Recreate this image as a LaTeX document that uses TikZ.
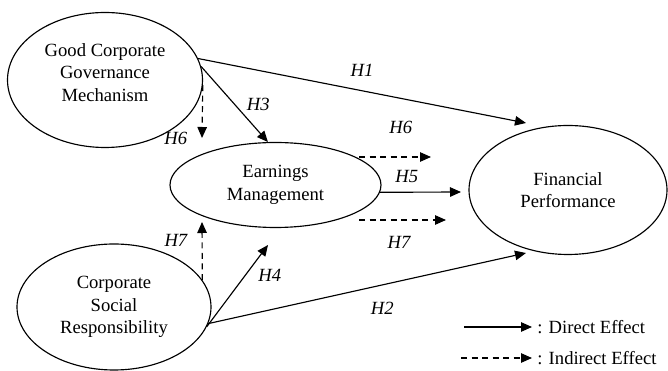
\documentclass[tikz,border=0pt]{standalone}
\usepackage{fontspec}
\setmainfont{Liberation Serif}
\usepackage{tikz}
\usetikzlibrary{arrows.meta, positioning, shapes.geometric}

\begin{document}
\begin{tikzpicture}[font=\fontsize{10.6}{12.8}\selectfont,
    var/.style={draw, ellipse, line width=0.65pt, inner sep=0pt, align=center},
    direct/.style={-{Triangle[length=0.22cm, width=0.19cm]}, line width=0.65pt},
    indirect/.style={direct, dash pattern=on 3.4pt off 2.6pt},
    hyp/.style={inner sep=1pt, font=\fontsize{10.6}{12.8}\selectfont\itshape}]
    \useasboundingbox (0,0) rectangle (13.36,7.42);

    \node (gcg) [var, minimum width=3.9cm, minimum height=2.7cm] at (2.10,5.82) {Good Corporate\\ Governance\\ Mechanism\\[-4pt]};
    \node (em) [var, minimum width=4.22cm, minimum height=1.7cm] at (5.51,3.72) {Earnings\\ Management};
    \node (fp) [var, minimum width=3.96cm, minimum height=2.58cm] at (11.36,3.62) {Financial\\ Performance};
    \node (csr) [var, minimum width=3.88cm, minimum height=2.52cm] at (2.28,1.28) {Corporate\\ Social\\ Responsibility};

    \coordinate (h1tip) at (10.52,4.96);
    \coordinate (h6tip) at (4.04,4.66);
    \coordinate (h6a) at (7.18,4.28);
    \coordinate (h6b) at (8.62,4.28);
    \coordinate (h5tip) at (9.22,3.58);
    \coordinate (h7a) at (7.18,3.02);
    \coordinate (h7b) at (8.92,3.02);
    \coordinate (h7tip) at (4.04,2.98);
    \coordinate (h4tip) at (5.36,2.52);
    \coordinate (h2tip) at (10.52,2.36);

    \draw[direct] (gcg.13) -- (h1tip) node[hyp, midway, above=0.24cm] {H1};
    \draw[direct] (gcg.8) -- (em.100) node[hyp, midway, right=0.2cm] {H3};
    \draw[indirect] (gcg.-3) -- (h6tip) node[hyp, pos=1, left=0.25cm] {H6};
    \draw[indirect] (h6a) -- (h6b) node[hyp, pos=0.58, above=0.42cm] {H6};
    \draw[direct] (em.-4) -- (h5tip) node[hyp, pos=0.33, above=0.14cm] {H5};
    \draw[indirect] (h7a) -- (h7b) node[hyp, pos=0.46, below=0.28cm] {H7};
    \draw[indirect] (csr.17) -- (h7tip) node[hyp, pos=0.69, left=0.25cm] {H7};
    \draw[direct] (csr.-12) -- (h4tip) node[hyp, pos=0.634, right=0.21cm] {H4};
    \draw[direct] (csr.-10) -- (h2tip) node[hyp, pos=0.548, below=0.3cm] {H2};

    % legend
    \coordinate (ldirs) at (9.28,0.88);
    \coordinate (lindirs) at (9.22,0.26);
    \node (ldirect) [anchor=west, inner sep=0.1cm] at (10.64,0.88) {: Direct Effect};
    \node (lindirect) [anchor=west, inner sep=0.1cm] at (10.64,0.26) {: Indirect Effect};
    \draw[direct] (ldirs) -- (ldirect.west);
    \draw[indirect] (lindirs) -- (lindirect.west);
\end{tikzpicture}
\end{document}
